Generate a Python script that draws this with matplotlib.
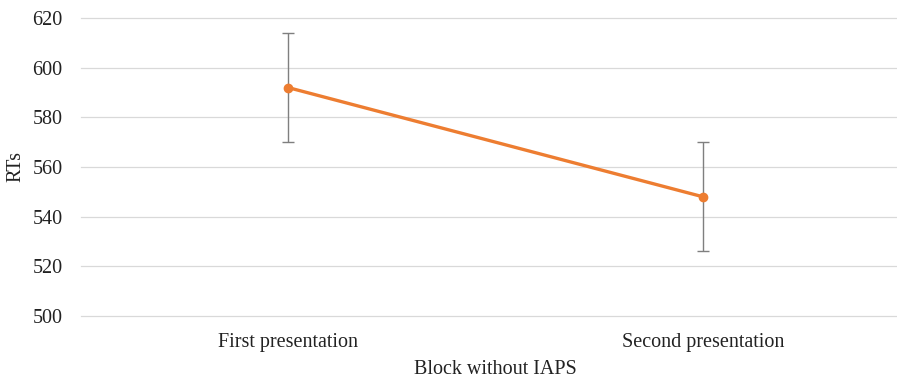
import matplotlib
matplotlib.use('Agg')
import matplotlib.pyplot as plt

conditions = ["First presentation", "Second presentation"]
mean_rt = [592, 548]
err_rt = [22, 22]
y_ticks = [500, 520, 540, 560, 580, 600, 620]

plt.rcParams['font.family'] = ['Liberation Serif', 'DejaVu Serif']

fig = plt.figure(figsize=(8.97, 3.79), dpi=100)
ax = fig.add_axes([80.5 / 897, 1 - 316 / 379, 830 / 897, 298 / 379])

x = list(range(len(conditions)))
ax.errorbar(x, mean_rt, yerr=err_rt, fmt='none', ecolor='#7f7f7f',
            elinewidth=1.0, capsize=4, capthick=1.0, zorder=2)
ax.plot(x, mean_rt, color='#ED7D31', lw=2.4, marker='o', ms=6,
        zorder=3, clip_on=False)

ax.set_xlim(-0.5, 1.5)
ax.set_ylim(500, 620)
ax.set_yticks(y_ticks)
ax.set_xticks(x)
ax.set_xticklabels(conditions)
ax.grid(axis='y', color='#d9d9d9', lw=0.9, clip_on=False)
ax.set_axisbelow(True)
for s in ax.spines.values():
    s.set_visible(False)
ax.tick_params(length=0, labelsize=14.5, colors='#222222')
ax.tick_params(axis='y', pad=13)
ax.tick_params(axis='x', pad=12)
ax.set_ylabel("RTs", fontsize=14.5, color='#222222', labelpad=5)
ax.set_xlabel("Block without IAPS", fontsize=14.5, color='#222222', labelpad=6)

fig.savefig('out.png', dpi=100)
